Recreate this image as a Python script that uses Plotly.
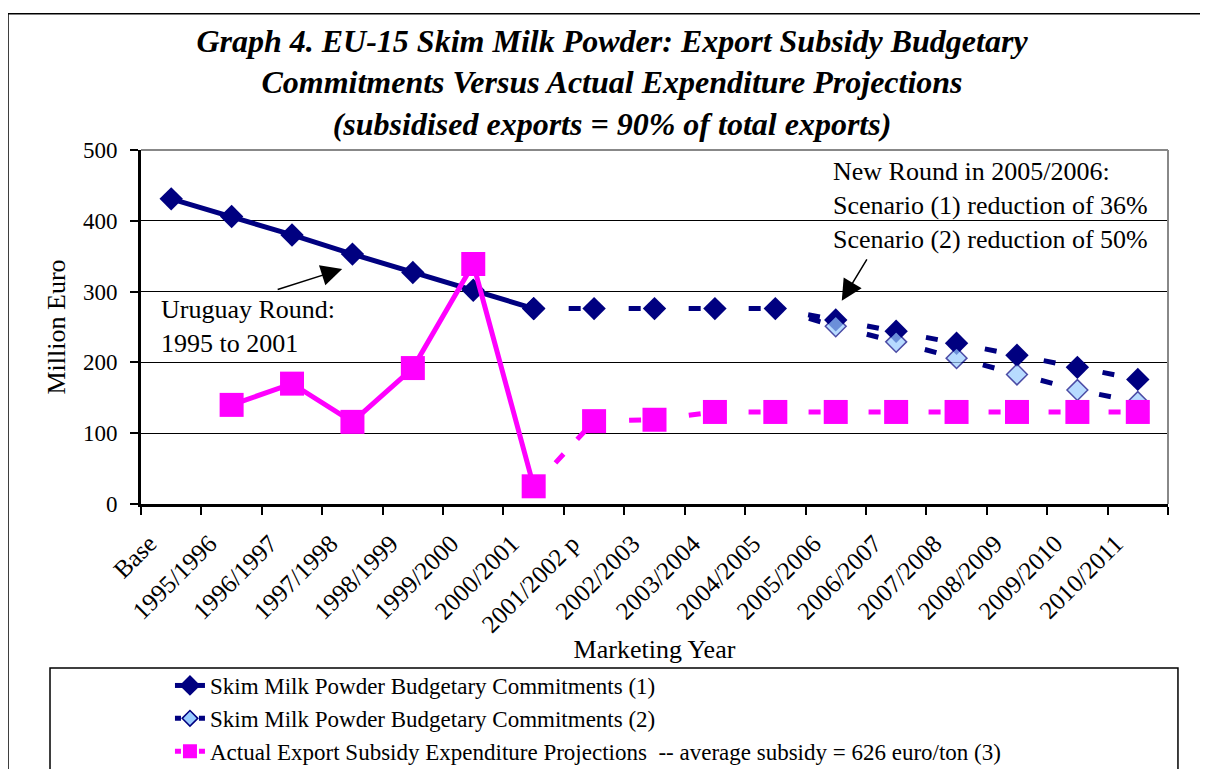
import plotly.graph_objects as go

# ---------------- data ----------------
categories = ["Base", "1995/1996", "1996/1997", "1997/1998", "1998/1999", "1999/2000",
              "2000/2001", "2001/2002 p", "2002/2003", "2003/2004", "2004/2005",
              "2005/2006", "2006/2007", "2007/2008", "2008/2009", "2009/2010", "2010/2011"]

# Skim Milk Powder Budgetary Commitments (1): Uruguay Round part (solid) then projection (dashed)
commit1_ur = [431, 406, 380, 353, 327, 302, 276, None, None, None, None,
              None, None, None, None, None, None]
commit1_proj = [None, None, None, None, None, None, 276, 276, 276, 276, 276,
                260, 244, 227, 210, 193, 176]
# Skim Milk Powder Budgetary Commitments (2)
commit2 = [None, None, None, None, None, None, None, None, None, None, 276,
           251, 229, 206, 183, 161, 144]
# Actual Export Subsidy Expenditure: actual (solid), link, projections (dashed)
actual_hist = [None, 140, 170, 116, 192, 339, 25, None, None, None, None,
               None, None, None, None, None, None]
actual_link = [None, None, None, None, None, None, 25, 117, None, None, None,
               None, None, None, None, None, None]
actual_proj = [None, None, None, None, None, None, None, 117, 119, 130, 130,
               130, 130, 130, 130, 130, 130]

NAVY = "#000080"
LIGHT = "#99CCFF"
PINK = "#FF00FF"
FONT = "Liberation Serif"
DASH = "0px,35px,12px,13px"
LEG_DASH = "6px,18px"

NAME1 = "Skim Milk Powder Budgetary Commitments (1)"
NAME2 = "Skim Milk Powder Budgetary Commitments (2)"
NAME3 = "Actual Export Subsidy Expenditure Projections  -- average subsidy = 626 euro/ton (3)"

W, H = 1200, 761

fig = go.Figure()

fig.add_trace(go.Scatter(
    x=categories, y=commit1_ur, mode="lines+markers", name=NAME1, legendrank=1,
    line=dict(color=NAVY, width=5),
    marker=dict(symbol="diamond", size=18, color=NAVY),
))
fig.add_trace(go.Scatter(
    x=categories, y=commit1_proj, mode="lines+markers", name=NAME1, showlegend=False,
    line=dict(color=NAVY, width=5, dash=DASH),
    marker=dict(symbol="diamond", size=18, color=NAVY),
))
c2_sizes = [0 if (i == 10) else 16 for i in range(len(categories))]
fig.add_trace(go.Scatter(
    x=categories, y=commit2, mode="lines+markers", name=NAME2, showlegend=False,
    line=dict(color=NAVY, width=5, dash=DASH),
    marker=dict(symbol="diamond", size=c2_sizes, color=LIGHT,
                line=dict(color=NAVY, width=1.5)),
))
fig.add_trace(go.Scatter(
    x=categories, y=actual_hist, mode="lines+markers", name=NAME3, showlegend=False,
    line=dict(color=PINK, width=5),
    marker=dict(symbol="square", size=24, color=PINK),
))
fig.add_trace(go.Scatter(
    x=categories, y=actual_link, mode="lines", name=NAME3, showlegend=False,
    line=dict(color=PINK, width=5, dash="12px,20px"),
))
fig.add_trace(go.Scatter(
    x=categories, y=actual_proj, mode="lines+markers", name=NAME3, showlegend=False,
    line=dict(color=PINK, width=5, dash=DASH),
    marker=dict(symbol="square", size=24, color=PINK),
))
# legend keys for the dashed series
fig.add_trace(go.Scatter(
    x=[None], y=[None], mode="lines+markers", name=NAME2, legendrank=2,
    line=dict(color=NAVY, width=5, dash=LEG_DASH),
    marker=dict(symbol="diamond", size=12, color=LIGHT, line=dict(color=NAVY, width=1.5)),
))
fig.add_trace(go.Scatter(
    x=[None], y=[None], mode="lines+markers", name=NAME3, legendrank=3,
    line=dict(color=PINK, width=5, dash=LEG_DASH),
    marker=dict(symbol="square", size=14, color=PINK),
))

fig.update_layout(
    width=W, height=H,
    margin=dict(l=133, r=40, t=142, b=265, autoexpand=False),
    paper_bgcolor="white", plot_bgcolor="white",
    font=dict(family=FONT, color="black", size=22),
    title=dict(
        text="Graph 4. EU-15 Skim Milk Powder: Export Subsidy Budgetary<br>"
             "Commitments Versus Actual Expenditure Projections<br>"
             "(subsidised exports = 90% of total exports)",
        font=dict(family=FONT, size=32, style="italic", weight="bold", color="black"),
        x=604 / W, xref="container", xanchor="center",
        y=1 - 43.8 / H, yref="container", yanchor="top",
    ),
    xaxis=dict(
        type="category", range=[-0.5, 16.5], automargin=False,
        showline=True, linecolor="black", linewidth=3,
        ticks="outside", tickson="boundaries", ticklen=8, tickwidth=2, tickcolor="black",
        tickangle=-45, tickfont=dict(size=25),
        ticklabelshift=-22, ticklabelstandoff=12,
        showgrid=False,
        title=dict(text="Marketing Year", font=dict(size=26), standoff=0),
    ),
    yaxis=dict(
        range=[0, 500], dtick=100, automargin=False,
        showline=True, linecolor="black", linewidth=3,
        ticks="outside", ticklen=8, tickwidth=2, tickcolor="black",
        tickfont=dict(size=23), ticklabelstandoff=8,
        showgrid=True, gridcolor="black", gridwidth=1,
        zeroline=False,
        title=dict(text="Million Euro", font=dict(size=26), standoff=10),
    ),
    legend=dict(
        x=0.0282, xref="paper", xanchor="left",
        y=1 - 656 / H, yref="container", yanchor="top",
        font=dict(family=FONT, size=23),
        bgcolor="rgba(0,0,0,0)", borderwidth=0,
        tracegroupgap=0,
    ),
    showlegend=True,
)

# plot-area top/right light border, outer chart border, legend frame
fig.add_shape(type="line", xref="paper", yref="paper", x0=0, x1=1, y0=1, y1=1,
              line=dict(color="#888888", width=2))
fig.add_shape(type="line", xref="paper", yref="paper", x0=1, x1=1, y0=0, y1=1,
              line=dict(color="#888888", width=2))
fig.add_shape(type="rect", xref="paper", yref="paper", x0=-0.1295, x1=1.2, y0=-1.0, y1=1.385,
              line=dict(color="black", width=1.5), layer="below")
fig.add_shape(type="rect", xref="paper", yref="paper", x0=-0.0886, x1=1.0097, y0=-1.0, y1=-0.463,
              line=dict(color="black", width=1.5))

# text annotations
fig.add_annotation(
    xref="paper", yref="paper", x=(159 - 141) / 1027, y=(504 - 326) / 354,
    xanchor="left", yanchor="middle", align="left", showarrow=False,
    text="Uruguay Round:<br>1995 to 2001", font=dict(size=26),
)
fig.add_annotation(
    xref="paper", yref="paper", x=(831 - 141) / 1027, y=(504 - 205) / 354,
    xanchor="left", yanchor="middle", align="left", showarrow=False,
    text="New Round in 2005/2006:<br>Scenario (1) reduction of 36%<br>Scenario (2) reduction of 50%",
    font=dict(size=26),
)
# arrows
fig.add_annotation(
    x=2.83, y=332, xref="x", yref="y", text="", showarrow=True,
    ax=-66, ay=21, arrowhead=2, arrowsize=2.8, arrowwidth=1.5, arrowcolor="black",
)
fig.add_annotation(
    x=11.1, y=287, xref="x", yref="y", text="", showarrow=True,
    ax=26, ay=-43, arrowhead=2, arrowsize=2.8, arrowwidth=1.5, arrowcolor="black",
)

fig.write_html("out.html")
